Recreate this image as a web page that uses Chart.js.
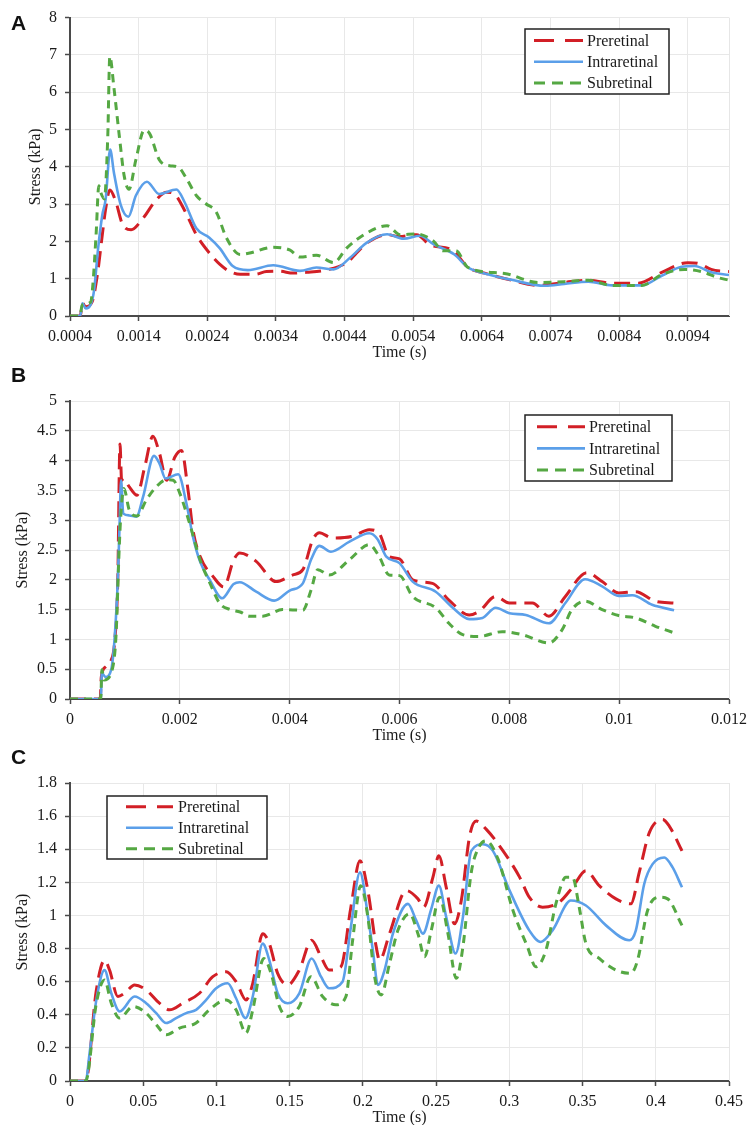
<!DOCTYPE html>
<html>
<head>
<meta charset="utf-8">
<script src="https://cdn.jsdelivr.net/npm/chart.js@4.4.1/dist/chart.umd.min.js"></script>
<style>
  body { margin: 0; background: #fff; }
  #page { position: relative; width: 747px; height: 1127px; overflow: hidden; }
  canvas { position: absolute; left: 0; }
  .tag { position: absolute; left: 11px; font: bold 21px "Liberation Sans", Arial, sans-serif; line-height: 21px; color: #111; }
</style>
</head>
<body>
<div id="page">
  <canvas id="chartA" width="747" height="360" style="top:0px"></canvas>
  <canvas id="chartB" width="747" height="381" style="top:362px"></canvas>
  <canvas id="chartC" width="747" height="380" style="top:745px"></canvas>
  <div class="tag" style="top:12px">A</div>
  <div class="tag" style="top:364px">B</div>
  <div class="tag" style="top:746px">C</div>
</div>
<script>
const seriesNames = ['Preretinal', 'Intraretinal', 'Subretinal'];

// ---- panel A ----
const aPreT = [0.0004, 0.00055, 0.00058, 0.00063, 0.00072, 0.0008, 0.00087, 0.00092, 0.00098, 0.00107, 0.00116, 0.00129, 0.00146, 0.00165, 0.0018, 0.00192, 0.00207, 0.00224, 0.00243, 0.00258, 0.00272, 0.00288, 0.0031, 0.00326, 0.00345, 0.00365, 0.00385, 0.00415, 0.00443, 0.00472, 0.00502, 0.0052, 0.00545, 0.00565, 0.00596, 0.0062, 0.00644, 0.00683, 0.00722, 0.0076, 0.00795, 0.0083, 0.00868, 0.00902, 0.0094, 0.00957, 0.00974, 0.01];
const aPreV = [0, 0, 0.34, 0.25, 0.37, 1.12, 2.17, 2.88, 3.38, 3.05, 2.48, 2.31, 2.61, 3.1, 3.32, 3.27, 2.83, 2.18, 1.69, 1.39, 1.2, 1.12, 1.12, 1.19, 1.2, 1.15, 1.17, 1.24, 1.43, 1.95, 2.18, 2.13, 2.18, 1.9, 1.78, 1.3, 1.15, 0.96, 0.82, 0.9, 0.96, 0.88, 0.88, 1.17, 1.43, 1.4, 1.25, 1.19];
const aIntraT = [0.0004, 0.00055, 0.00058, 0.00063, 0.0007, 0.00075, 0.00081, 0.00087, 0.00092, 0.000985, 0.00104, 0.00114, 0.00125, 0.00136, 0.00152, 0.0017, 0.00195, 0.00207, 0.00224, 0.00243, 0.00258, 0.00277, 0.00299, 0.00336, 0.00375, 0.00399, 0.00424, 0.00448, 0.00472, 0.00502, 0.00526, 0.0055, 0.0057, 0.006, 0.0062, 0.00644, 0.00683, 0.00732, 0.0076, 0.00795, 0.0083, 0.00873, 0.00902, 0.00931, 0.0095, 0.00974, 0.01];
const aIntraV = [0, 0, 0.34, 0.2, 0.3, 0.68, 1.82, 2.7, 3.14, 4.46, 3.84, 2.97, 2.66, 3.23, 3.6, 3.27, 3.39, 3.05, 2.35, 2.1, 1.82, 1.34, 1.23, 1.36, 1.21, 1.3, 1.25, 1.56, 1.96, 2.19, 2.07, 2.15, 1.92, 1.65, 1.3, 1.14, 0.97, 0.81, 0.86, 0.92, 0.82, 0.82, 1.08, 1.32, 1.34, 1.17, 1.1];
const aSubT = [0.0004, 0.00054, 0.00058, 0.0007, 0.00073, 0.00078, 0.00082, 0.00085, 0.0009, 0.00095, 0.00098, 0.00104, 0.00112, 0.00119, 0.00126, 0.00136, 0.00148, 0.00156, 0.0017, 0.00185, 0.00197, 0.00209, 0.00224, 0.00238, 0.00253, 0.00268, 0.00288, 0.003, 0.00336, 0.0036, 0.00375, 0.00399, 0.00424, 0.00443, 0.00472, 0.00502, 0.00521, 0.00545, 0.0057, 0.00583, 0.00602, 0.0062, 0.00673, 0.00722, 0.0076, 0.00795, 0.0083, 0.00873, 0.00902, 0.00935, 0.0096, 0.00984, 0.01];
const aSubV = [0, 0, 0.3, 0.37, 0.77, 2.18, 3.49, 3.3, 3.14, 4.8, 6.96, 6.12, 4.8, 3.75, 3.4, 4.19, 4.98, 4.89, 4.19, 4.03, 4.0, 3.71, 3.23, 3.01, 2.79, 2.09, 1.65, 1.68, 1.84, 1.77, 1.58, 1.63, 1.43, 1.82, 2.22, 2.42, 2.18, 2.2, 2.0, 1.75, 1.75, 1.3, 1.14, 0.9, 0.92, 0.96, 0.82, 0.82, 1.11, 1.25, 1.19, 1.03, 0.96];
const aTicksX = [0.0004, 0.0014, 0.0024, 0.0034, 0.0044, 0.0054, 0.0064, 0.0074, 0.0084, 0.0094];
const aTicksY = [0, 1, 2, 3, 4, 5, 6, 7, 8];

// ---- panel B ----
const bPreT = [0, 0.00055, 0.00057, 0.00065, 0.00075, 0.00081, 0.00087, 0.00091, 0.00094, 0.00097, 0.00108, 0.00122, 0.00136, 0.00151, 0.00163, 0.00176, 0.00191, 0.00203, 0.00215, 0.00224, 0.00237, 0.00261, 0.0028, 0.00298, 0.00309, 0.00339, 0.00375, 0.00405, 0.00424, 0.00442, 0.00454, 0.00478, 0.00515, 0.00545, 0.00563, 0.00581, 0.006, 0.00624, 0.0066, 0.0069, 0.00727, 0.00745, 0.00775, 0.008, 0.00842, 0.00872, 0.00902, 0.00941, 0.00969, 0.00999, 0.0103, 0.01066, 0.011];
const bPreV = [0, 0, 0.37, 0.54, 0.65, 0.93, 2.0, 4.28, 3.67, 3.7, 3.56, 3.42, 3.89, 4.41, 4.12, 3.67, 4.06, 4.17, 3.5, 2.83, 2.39, 2.05, 1.88, 2.33, 2.45, 2.31, 1.97, 2.08, 2.17, 2.67, 2.79, 2.7, 2.73, 2.84, 2.78, 2.39, 2.35, 2.0, 1.94, 1.66, 1.41, 1.47, 1.72, 1.61, 1.61, 1.39, 1.72, 2.12, 1.97, 1.78, 1.8, 1.64, 1.61];
const bIntraT = [0, 0.00056, 0.00058, 0.00065, 0.00075, 0.00081, 0.00087, 0.0009, 0.00093, 0.00097, 0.00108, 0.00121, 0.00133, 0.00153, 0.00163, 0.00174, 0.00197, 0.00212, 0.00224, 0.00237, 0.00255, 0.00277, 0.00298, 0.00309, 0.00339, 0.00372, 0.004, 0.00424, 0.00439, 0.00454, 0.00475, 0.00509, 0.00545, 0.0056, 0.00576, 0.006, 0.00624, 0.00666, 0.00697, 0.00727, 0.00751, 0.00775, 0.008, 0.0083, 0.00872, 0.00902, 0.00938, 0.00969, 0.00999, 0.01024, 0.0106, 0.011];
const bIntraV = [0, 0, 0.43, 0.37, 0.49, 0.99, 1.99, 2.83, 3.67, 3.11, 3.08, 3.06, 3.39, 4.08, 3.95, 3.7, 3.77, 3.28, 2.72, 2.3, 1.99, 1.69, 1.93, 1.96, 1.8, 1.65, 1.82, 1.94, 2.34, 2.57, 2.47, 2.64, 2.78, 2.68, 2.39, 2.28, 1.97, 1.8, 1.53, 1.34, 1.36, 1.53, 1.44, 1.41, 1.27, 1.61, 2.01, 1.89, 1.73, 1.74, 1.58, 1.49];
const bSubT = [0, 0.00056, 0.00058, 0.00062, 0.00078, 0.00084, 0.00089, 0.00092, 0.00098, 0.00108, 0.00122, 0.00139, 0.00157, 0.00176, 0.00188, 0.002, 0.00218, 0.00237, 0.00255, 0.00273, 0.00292, 0.0031, 0.00327, 0.00351, 0.00387, 0.00424, 0.00439, 0.00451, 0.00472, 0.00509, 0.00545, 0.00563, 0.00581, 0.006, 0.00624, 0.00666, 0.0069, 0.00715, 0.00745, 0.00787, 0.00823, 0.00872, 0.00896, 0.00914, 0.00938, 0.00969, 0.00999, 0.0103, 0.01066, 0.011];
const bSubV = [0, 0, 0.49, 0.32, 0.54, 1.1, 2.39, 3.0, 3.53, 3.17, 3.07, 3.34, 3.56, 3.68, 3.67, 3.45, 2.94, 2.33, 1.94, 1.6, 1.5, 1.46, 1.39, 1.39, 1.5, 1.49, 1.83, 2.17, 2.08, 2.34, 2.59, 2.39, 2.08, 2.07, 1.72, 1.53, 1.27, 1.08, 1.05, 1.13, 1.08, 0.94, 1.16, 1.5, 1.64, 1.5, 1.4, 1.36, 1.22, 1.11];
const bTicksX = [0, 0.002, 0.004, 0.006, 0.008, 0.01, 0.012];
const bTicksY = [0, 0.5, 1, 1.5, 2, 2.5, 3, 3.5, 4, 4.5, 5];

// ---- panel C ----
const cPreT = [0, 0.0107, 0.018, 0.0236, 0.027, 0.0327, 0.0373, 0.0441, 0.052, 0.0611, 0.068, 0.077, 0.0884, 0.0975, 0.1066, 0.1134, 0.1202, 0.1248, 0.1316, 0.1361, 0.1418, 0.1486, 0.1566, 0.165, 0.1714, 0.177, 0.185, 0.1918, 0.198, 0.2034, 0.2091, 0.2114, 0.2182, 0.2296, 0.2376, 0.2415, 0.2478, 0.2519, 0.2569, 0.2626, 0.2672, 0.2729, 0.2774, 0.2843, 0.2957, 0.3071, 0.3136, 0.3227, 0.3341, 0.3432, 0.3523, 0.3614, 0.3728, 0.383, 0.3887, 0.3956, 0.4047, 0.4092, 0.4179];
const cPreV = [0, 0, 0.55, 0.73, 0.67, 0.51, 0.53, 0.58, 0.55, 0.47, 0.43, 0.47, 0.53, 0.63, 0.66, 0.6, 0.49, 0.59, 0.89, 0.83, 0.65, 0.58, 0.67, 0.85, 0.75, 0.67, 0.69, 1.05, 1.33, 1.15, 0.81, 0.73, 0.89, 1.15, 1.1, 1.05, 1.23, 1.36, 1.17, 0.95, 1.09, 1.48, 1.57, 1.52, 1.39, 1.23, 1.11, 1.05, 1.08, 1.17, 1.27, 1.18, 1.1, 1.07, 1.26, 1.5, 1.58, 1.54, 1.39];
const cIntraT = [0, 0.0107, 0.0134, 0.018, 0.0236, 0.0282, 0.0339, 0.0441, 0.052, 0.0589, 0.0657, 0.0725, 0.0793, 0.0861, 0.093, 0.0998, 0.1077, 0.1134, 0.1198, 0.1248, 0.1316, 0.1361, 0.1418, 0.1486, 0.1566, 0.165, 0.1714, 0.177, 0.1861, 0.1918, 0.198, 0.2034, 0.2068, 0.2103, 0.2148, 0.2205, 0.2308, 0.2364, 0.241, 0.2467, 0.2519, 0.2569, 0.2633, 0.2683, 0.274, 0.282, 0.2888, 0.3002, 0.3136, 0.3215, 0.3295, 0.342, 0.3523, 0.366, 0.3819, 0.3864, 0.3921, 0.3978, 0.4058, 0.4115, 0.4179];
const cIntraV = [0, 0, 0.17, 0.49, 0.67, 0.53, 0.42, 0.51, 0.47, 0.41, 0.35, 0.38, 0.41, 0.43, 0.49, 0.56, 0.59, 0.5, 0.38, 0.51, 0.83, 0.73, 0.53, 0.47, 0.53, 0.74, 0.63, 0.56, 0.6, 0.93, 1.26, 1.0, 0.79, 0.58, 0.67, 0.89, 1.07, 0.97, 0.89, 1.04, 1.18, 0.99, 0.77, 0.99, 1.39, 1.43, 1.39, 1.15, 0.91, 0.84, 0.91, 1.09, 1.06, 0.94, 0.85, 0.91, 1.19, 1.31, 1.35, 1.29, 1.17];
const cSubT = [0, 0.0107, 0.018, 0.0236, 0.0282, 0.0339, 0.043, 0.052, 0.0589, 0.0657, 0.0748, 0.0861, 0.0952, 0.1066, 0.1134, 0.1202, 0.1248, 0.1323, 0.1373, 0.143, 0.1486, 0.1566, 0.1645, 0.1725, 0.1816, 0.1884, 0.193, 0.1985, 0.2034, 0.208, 0.2125, 0.2182, 0.2239, 0.2319, 0.2376, 0.2421, 0.2467, 0.2524, 0.2581, 0.2638, 0.2683, 0.274, 0.2797, 0.2843, 0.2923, 0.3025, 0.3124, 0.3181, 0.325, 0.3318, 0.3386, 0.3432, 0.3477, 0.3523, 0.3614, 0.3728, 0.383, 0.3876, 0.3944, 0.4024, 0.4081, 0.4179];
const cSubV = [0, 0, 0.47, 0.61, 0.47, 0.38, 0.45, 0.41, 0.34, 0.28, 0.32, 0.35, 0.43, 0.49, 0.43, 0.29, 0.43, 0.74, 0.65, 0.45, 0.39, 0.45, 0.63, 0.51, 0.46, 0.51, 0.85, 1.18, 0.99, 0.63, 0.52, 0.71, 0.91, 1.01, 0.89, 0.75, 0.91, 1.11, 0.89, 0.62, 0.81, 1.26, 1.42, 1.45, 1.34, 1.03, 0.81, 0.69, 0.79, 1.07, 1.23, 1.23, 1.05, 0.83, 0.74, 0.67, 0.65, 0.73, 1.03, 1.11, 1.1, 0.94];
const cTicksX = [0, 0.05, 0.1, 0.15, 0.2, 0.25, 0.3, 0.35, 0.4, 0.45];
const cTicksY = [0, 0.2, 0.4, 0.6, 0.8, 1, 1.2, 1.4, 1.6, 1.8];

const lineStyles = [
  { color: '#d21f26', width: 3, dash: [16, 8], legendDash: [20, 11], order: 2 },
  { color: '#5b9fe9', width: 2.6, dash: [], legendDash: [], order: 1 },
  { color: '#55a843', width: 3, dash: [8, 6], legendDash: [11, 7], order: 0 }
];

const serif = { family: '"Liberation Serif", "Times New Roman", serif', size: 16 };
const ink = '#1a1a1a';
const axisInk = '#4a4a4a';

// legend drawn as a framed box inside the plot, like the original
const boxLegend = {
  id: 'boxLegend',
  afterDraw(chart, args, o) {
    const ctx = chart.ctx;
    ctx.save();
    ctx.fillStyle = '#fff';
    ctx.fillRect(o.x, o.y, o.w, o.h);
    ctx.strokeStyle = '#222';
    ctx.lineWidth = 1.5;
    ctx.strokeRect(o.x, o.y, o.w, o.h);
    chart.data.datasets.forEach((ds, i) => {
      const y = o.row0 + i * o.rowGap;
      ctx.beginPath();
      ctx.setLineDash(ds.legendDash);
      ctx.strokeStyle = ds.borderColor;
      ctx.lineWidth = ds.borderWidth;
      ctx.moveTo(o.line0, y);
      ctx.lineTo(o.line1, y);
      ctx.stroke();
      ctx.setLineDash([]);
      ctx.fillStyle = ink;
      ctx.font = '16px "Liberation Serif", "Times New Roman", serif';
      ctx.textBaseline = 'middle';
      ctx.fillText(ds.label, o.textX, y + 1);
    });
    ctx.restore();
  }
};

const rightEdge = {
  id: 'rightEdge',
  beforeDatasetsDraw(chart) {
    const { ctx, chartArea } = chart;
    ctx.save();
    ctx.strokeStyle = '#e6e6e6';
    ctx.lineWidth = 1;
    ctx.beginPath();
    ctx.moveTo(Math.round(chartArea.right) + 0.5, chartArea.top);
    ctx.lineTo(Math.round(chartArea.right) + 0.5, chartArea.bottom);
    ctx.stroke();
    ctx.restore();
  }
};

function makePanel(id, series, xTicks, xMax, yTicks, padTop, yTitlePad, legend) {
  const datasets = series.map((s, i) => ({
    label: seriesNames[i],
    data: s[0].map((t, k) => ({ x: t, y: s[1][k] })),
    showLine: true,
    pointRadius: 0,
    borderColor: lineStyles[i].color,
    borderWidth: lineStyles[i].width,
    borderDash: lineStyles[i].dash,
    legendDash: lineStyles[i].legendDash,
    order: lineStyles[i].order,
    cubicInterpolationMode: 'monotone',
    fill: false
  }));
  const grid = { color: '#e8e8e8', lineWidth: 1, tickColor: axisInk, tickLength: 5, tickWidth: 1.5 };
  const border = { color: axisInk, width: 2 };
  return new Chart(document.getElementById(id), {
    type: 'scatter',
    data: { datasets },
    options: {
      responsive: false,
      animation: false,
      devicePixelRatio: 1,
      layout: { padding: { top: padTop, right: 18, left: 0, bottom: 0 } },
      plugins: { legend: { display: false }, tooltip: { enabled: false }, boxLegend: legend },
      scales: {
        x: {
          type: 'linear',
          min: xTicks[0],
          max: xMax,
          afterBuildTicks: sc => { sc.ticks = xTicks.map(v => ({ value: v })); },
          afterFit: sc => { sc.height = 44; sc.paddingLeft = 0; sc.paddingRight = 0; },
          grid, border,
          ticks: { font: serif, color: ink, padding: 6, maxRotation: 0, autoSkip: false, callback: v => String(v) },
          title: { display: true, text: 'Time (s)', font: serif, color: ink, padding: { top: 0, bottom: -2 } }
        },
        y: {
          type: 'linear',
          min: yTicks[0],
          max: yTicks[yTicks.length - 1],
          afterBuildTicks: sc => { sc.ticks = yTicks.map(v => ({ value: v })); },
          afterFit: sc => { sc.width = 70; },
          grid, border,
          ticks: { font: serif, color: ink, padding: 8, autoSkip: false, callback: v => String(v) },
          title: { display: true, text: 'Stress (kPa)', font: serif, color: ink, padding: { top: yTitlePad, bottom: 0 } }
        }
      }
    },
    plugins: [boxLegend, rightEdge]
  });
}

makePanel('chartA', [[aPreT, aPreV], [aIntraT, aIntraV], [aSubT, aSubV]], aTicksX, 0.01, aTicksY, 12, 26,
  { x: 525, y: 29, w: 144, h: 65, row0: 40.5, rowGap: 21.3, line0: 534, line1: 583, textX: 587 });
makePanel('chartB', [[bPreT, bPreV], [bIntraT, bIntraV], [bSubT, bSubV]], bTicksX, 0.012, bTicksY, 39, 13,
  { x: 525, y: 53, w: 147, h: 66, row0: 64.7, rowGap: 21.7, line0: 537, line1: 585, textX: 589 });
makePanel('chartC', [[cPreT, cPreV], [cIntraT, cIntraV], [cSubT, cSubV]], cTicksX, 0.45, cTicksY, 38, 13,
  { x: 107, y: 51, w: 160, h: 63, row0: 61.7, rowGap: 21, line0: 126, line1: 173, textX: 178 });
</script>
</body>
</html>
